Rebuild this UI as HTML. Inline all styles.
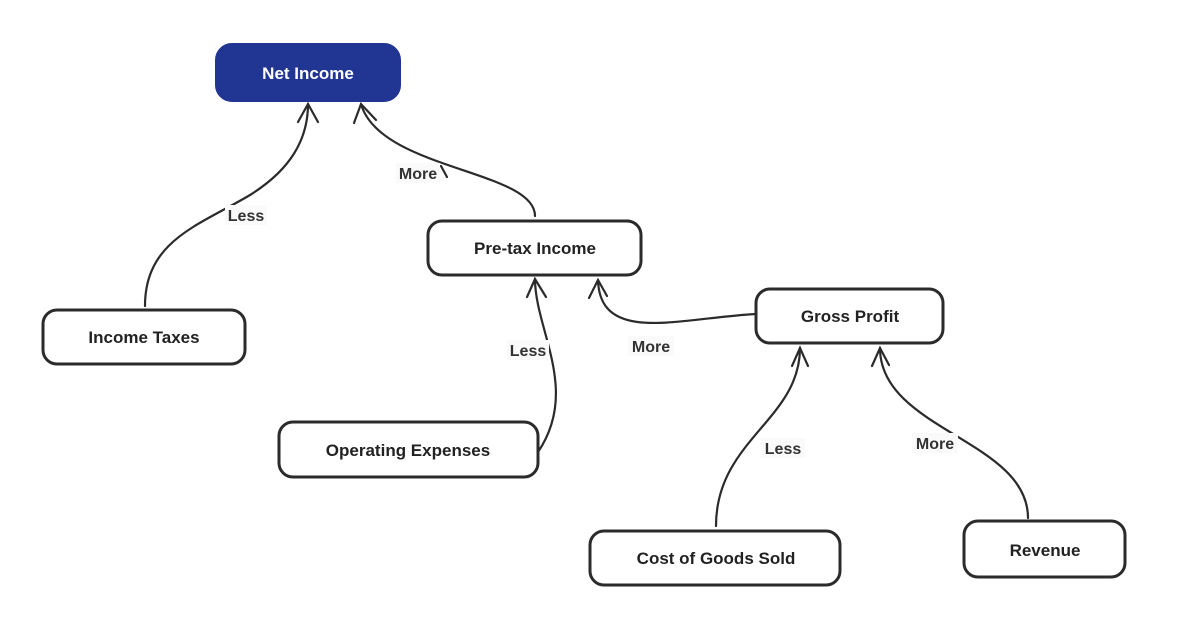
<!DOCTYPE html>
<html><head><meta charset="utf-8"><style>
body{margin:0;background:#fff;}
svg{display:block;}
text{font-family:"Liberation Sans",sans-serif;font-weight:bold;}
</style></head><body>
<svg width="1190" height="628" viewBox="0 0 1190 628">
<g fill="none" stroke="#2b2b2b" stroke-width="2.2" stroke-linecap="round">
<path d="M145,306 C145,240 200,225 250,195 C290,170 308,140 308,104"/>
<path d="M298,122 L308,104 L318,122"/>
<path d="M535,216 C535,170 380,170 361,104"/>
<path d="M354,123 L361,104 L376,120"/>
<path d="M441,166 L447,177"/>
<path d="M538,452 C580,390 535,330 535,279"/>
<path d="M527,297 L535,279 L546,297"/>
<path d="M756,314 C680,318 600,345 598,280"/>
<path d="M589,298 L598,280 L607,296"/>
<path d="M716,526 C716,440 800,420 800,348"/>
<path d="M792,366 L800,348 L808,366"/>
<path d="M1028,518 C1028,440 880,430 880,348"/>
<path d="M872,366 L880,348 L889,365"/>
</g>
<rect x="216" y="44" width="184" height="57" rx="16" fill="#213592" stroke="#213592" stroke-width="2"/>
<g stroke="#2b2b2b" stroke-width="3" fill="#fff">
<rect x="428" y="221" width="213" height="54" rx="14"/>
<rect x="43" y="310" width="202" height="54" rx="14"/>
<rect x="756" y="289" width="187" height="54" rx="14"/>
<rect x="279" y="422" width="259" height="55" rx="14"/>
<rect x="590" y="531" width="250" height="54" rx="14"/>
<rect x="964" y="521" width="161" height="56" rx="14"/>
</g>
<g font-size="17" text-anchor="middle" fill="#222">
<text x="308" y="79" fill="#fff">Net Income</text>
<text x="535" y="254">Pre-tax Income</text>
<text x="144" y="343">Income Taxes</text>
<text x="850" y="322">Gross Profit</text>
<text x="408" y="456">Operating Expenses</text>
<text x="716" y="564">Cost of Goods Sold</text>
<text x="1045" y="556">Revenue</text>
</g>
<g font-size="16" text-anchor="middle" fill="#333">
<rect x="225" y="205" width="42" height="20" fill="#fafafa"/>
<text x="246" y="221">Less</text>
<rect x="396" y="163" width="44" height="20" fill="#fafafa"/>
<text x="418" y="179">More</text>
<rect x="507" y="340" width="42" height="20" fill="#fafafa"/>
<text x="528" y="356">Less</text>
<rect x="628" y="336" width="46" height="20" fill="#fafafa"/>
<text x="651" y="352">More</text>
<rect x="761" y="438" width="44" height="20" fill="#fafafa"/>
<text x="783" y="454">Less</text>
<rect x="912" y="433" width="46" height="20" fill="#fafafa"/>
<text x="935" y="449">More</text>
</g>
</svg>
</body></html>
